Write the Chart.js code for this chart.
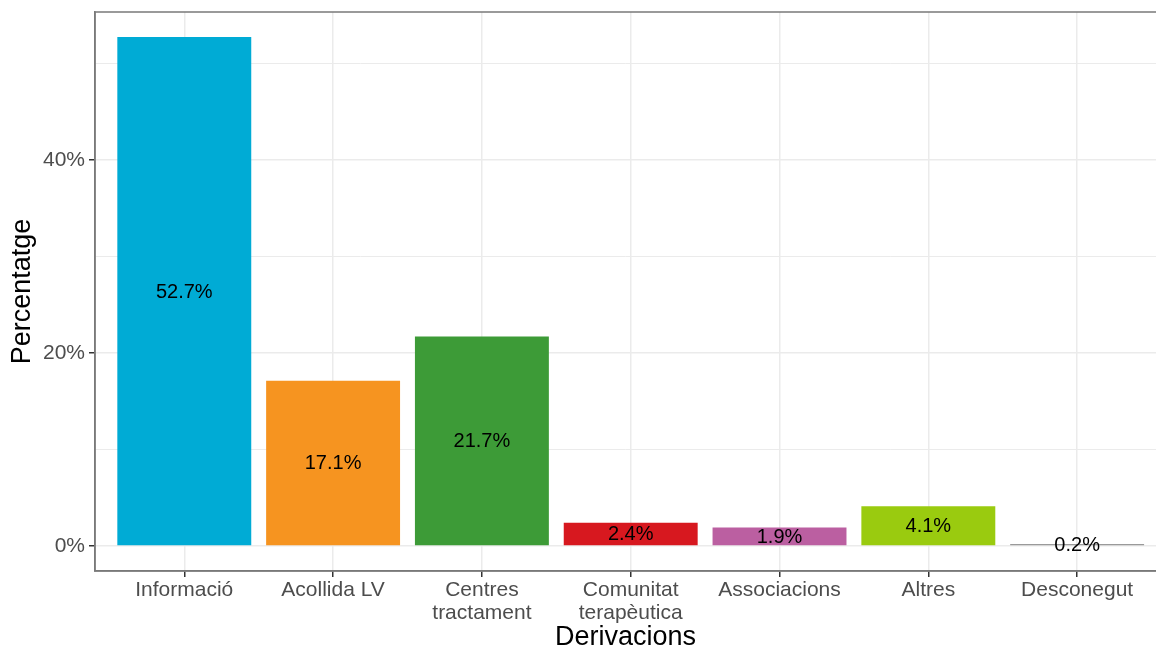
<!DOCTYPE html>
<html>
<head>
<meta charset="utf-8">
<script src="https://cdn.jsdelivr.net/npm/chart.js@4"></script>
<style>
  html, body { margin: 0; padding: 0; background: #ffffff; }
  #wrap { width: 1156px; height: 651px; }
</style>
</head>
<body>
<div id="wrap"><canvas id="canvas" width="1156" height="651"></canvas></div>
<script>
// categories and values
var categories = ['Informació', 'Acollida LV', ['Centres', 'tractament'], ['Comunitat', 'terapèutica'], 'Associacions', 'Altres', 'Desconegut'];
var percents = [52.7, 17.1, 21.7, 2.4, 1.9, 4.1, 0.2];
var barColors = ['#00abd5', '#f69420', '#3d9b37', '#d7181f', '#bb5fa1', '#9acb0f', '#9a9a9a'];
var yTicks = [0, 10, 20, 30, 40, 50];

var points = [];
for (var i = 0; i < percents.length; i++) {
    points.push({ x: i + 1, y: percents[i] });
}

var FONT = '"Liberation Sans", Arial, sans-serif';

// frame round the panel (ggplot theme_bw look)
var frame = {
    id: 'frame',
    afterDraw: function (chart) {
        var a = chart.chartArea, c = chart.ctx;
        c.save();
        c.strokeStyle = '#7a7a7a';
        c.lineWidth = 1.5;
        c.strokeRect(a.left, a.top, a.right - a.left + 20, a.bottom - a.top);
        c.restore();
    }
};

// value labels in the middle of each bar
var valueLabels = {
    id: 'valueLabels',
    afterDatasetsDraw: function (chart) {
        var c = chart.ctx;
        var meta = chart.getDatasetMeta(0);
        c.save();
        c.font = '20px ' + FONT;
        c.fillStyle = '#000000';
        c.textAlign = 'center';
        c.textBaseline = 'middle';
        meta.data.forEach(function (bar, i) {
            var p = bar.getProps(['x', 'y', 'base'], true);
            c.fillText(percents[i].toFixed(1) + '%', p.x, (p.y + p.base) / 2 + 1);
        });
        c.restore();
    }
};

var ctx = document.getElementById('canvas').getContext('2d');
var myChart = new Chart(ctx, {
    type: 'bar',
    data: {
        datasets: [{
            data: points,
            backgroundColor: barColors,
            borderWidth: 0,
            barPercentage: 0.9,
            categoryPercentage: 1.0
        }]
    },
    options: {
        responsive: false,
        animation: false,
        layout: { autoPadding: false, padding: { top: 12, right: 0, left: 0, bottom: 0 } },
        plugins: {
            legend: { display: false },
            tooltip: { enabled: false }
        },
        scales: {
            x: {
                type: 'linear',
                offset: false,
                min: 0.4,
                max: 7.53,
                afterBuildTicks: function (scale) {
                    scale.ticks = categories.map(function (c, i) { return { value: i + 1 }; });
                },
                afterFit: function (scale) {
                    scale.height = 80;
                    scale.paddingLeft = 0;
                    scale.paddingRight = 0;
                },
                ticks: {
                    autoSkip: false,
                    maxRotation: 0,
                    padding: 2,
                    color: '#4d4d4d',
                    font: { family: FONT, size: 21, lineHeight: 1.1 },
                    callback: function (v) { return categories[v - 1]; }
                },
                grid: {
                    offset: false,
                    color: '#ebebeb',
                    lineWidth: 1.5,
                    tickColor: '#333333',
                    tickLength: 6
                },
                border: { display: true, color: '#7a7a7a', width: 1.5 },
                title: {
                    display: true,
                    text: 'Derivacions',
                    color: '#000000',
                    font: { family: FONT, size: 27, lineHeight: 1 },
                    padding: { top: 0, bottom: 0 }
                }
            },
            y: {
                min: -2.6,
                max: 55.3,
                afterBuildTicks: function (scale) {
                    scale.ticks = yTicks.map(function (v) { return { value: v }; });
                },
                afterFit: function (scale) {
                    scale.width = 95;
                    scale.paddingTop = 0;
                    scale.paddingBottom = 0;
                },
                ticks: {
                    padding: 4,
                    color: '#4d4d4d',
                    font: { family: FONT, size: 21 },
                    callback: function (v) { return v % 20 === 0 ? v + '%' : ''; }
                },
                grid: {
                    color: '#ebebeb',
                    lineWidth: function (c) { return c.tick && c.tick.value % 20 === 0 ? 1.5 : 1; },
                    tickColor: function (c) { return c.tick && c.tick.value % 20 === 0 ? '#333333' : 'rgba(0,0,0,0)'; },
                    tickLength: 6
                },
                border: { display: true, color: '#7a7a7a', width: 1.5 },
                title: {
                    display: true,
                    text: 'Percentatge',
                    color: '#000000',
                    font: { family: FONT, size: 27, lineHeight: 1 },
                    padding: { top: 9, bottom: 0 }
                }
            }
        }
    },
    plugins: [frame, valueLabels]
});
</script>
</body>
</html>
